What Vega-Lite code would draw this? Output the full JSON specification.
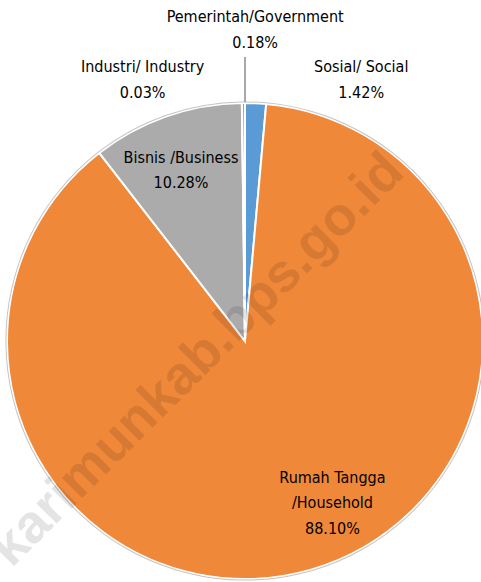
{
  "$schema": "https://vega.github.io/schema/vega-lite/v6.json",
  "width": 472,
  "height": 476,
  "autosize": "none",
  "padding": {"left": 9, "top": 103, "right": 0, "bottom": 3},
  "background": "white",
  "view": {"stroke": null},
  "config": {"text": {"font": "DejaVu Sans Condensed, Liberation Sans Narrow, sans-serif", "fontSize": 16, "lineHeight": 25.5, "color": "#000000"}},
  "layer": [
    {
      "data": {
        "values": [
          {"cat": "Sosial", "label": "Sosial/ Social\n1.42%", "value": 1.42, "order": 1},
          {"cat": "Rumah Tangga", "label": "Rumah Tangga\n/Household\n88.10%", "value": 88.10, "order": 2},
          {"cat": "Bisnis", "label": "Bisnis /Business\n10.28%", "value": 10.28, "order": 3},
          {"cat": "Industri", "label": "Industri/ Industry\n0.03%", "value": 0.03, "order": 4},
          {"cat": "Pemerintah", "label": "Pemerintah/Government\n0.18%", "value": 0.18, "order": 5}
        ]
      },
      "encoding": {
        "theta": {"field": "value", "type": "quantitative", "stack": true},
        "order": {"field": "order", "type": "quantitative", "sort": "ascending"}
      },
      "layer": [
        {
          "mark": {"type": "arc", "outerRadius": 238, "stroke": "white", "strokeWidth": 2},
          "encoding": {
            "color": {
              "field": "cat", "type": "nominal", "legend": null,
              "scale": {"domain": ["Sosial", "Rumah Tangga", "Bisnis", "Industri", "Pemerintah"],
                        "range": ["#5B9BD5", "#F0883A", "#ABABAB", "#FFC000", "#4472C4"]}
            }
          }
        },
        {
          "mark": {"type": "arc", "innerRadius": 238.6, "outerRadius": 239.6, "fill": "#c4c4c4", "stroke": null}
        },
        {
          "transform": [
            {"stack": "value", "groupby": [], "sort": [{"field": "order", "order": "ascending"}], "as": ["s0", "s1"]},
            {"filter": "datum.cat === 'Sosial'"}
          ],
          "mark": {"type": "arc", "innerRadius": 239, "outerRadius": 284, "fill": null, "stroke": "#8c8c8c", "strokeWidth": 1},
          "encoding": {
            "theta": {"field": "s0", "type": "quantitative"},
            "theta2": {"field": "s0"}
          }
        },
        {
          "mark": {"type": "text", "radius": 194, "lineBreak": "\n", "align": "center", "baseline": "middle"},
          "encoding": {"text": {"condition": {"test": "datum.cat === 'Bisnis'", "field": "label"}, "value": ""}}
        },
        {
          "mark": {"type": "text", "radius": 183, "dx": 36, "dy": -39, "lineBreak": "\n", "align": "center", "baseline": "middle"},
          "encoding": {"text": {"condition": {"test": "datum.cat === 'Rumah Tangga'", "field": "label"}, "value": ""}}
        },
        {
          "mark": {"type": "text", "radius": 324, "dx": 12, "lineBreak": "\n", "align": "center", "baseline": "middle"},
          "encoding": {"text": {"condition": {"test": "datum.cat === 'Pemerintah'", "field": "label"}, "value": ""}}
        },
        {
          "mark": {"type": "text", "radius": 274, "dx": -99, "lineBreak": "\n", "align": "center", "baseline": "middle"},
          "encoding": {"text": {"condition": {"test": "datum.cat === 'Industri'", "field": "label"}, "value": ""}}
        },
        {
          "mark": {"type": "text", "radius": 274, "dx": 104, "lineBreak": "\n", "align": "center", "baseline": "middle"},
          "encoding": {"text": {"condition": {"test": "datum.cat === 'Sosial'", "field": "label"}, "value": ""}}
        }
      ]
    },
    {
      "data": {"values": [{"wm": "karimunkab.bps.go.id"}]},
      "mark": {"type": "text", "angle": -45, "font": "Liberation Sans, Arial, sans-serif", "fontWeight": "bold", "fontSize": 54, "color": "#000000", "opacity": 0.1, "align": "center", "baseline": "alphabetic", "dx": -47, "dy": -4},
      "encoding": {"text": {"field": "wm", "type": "nominal"}}
    }
  ]
}
